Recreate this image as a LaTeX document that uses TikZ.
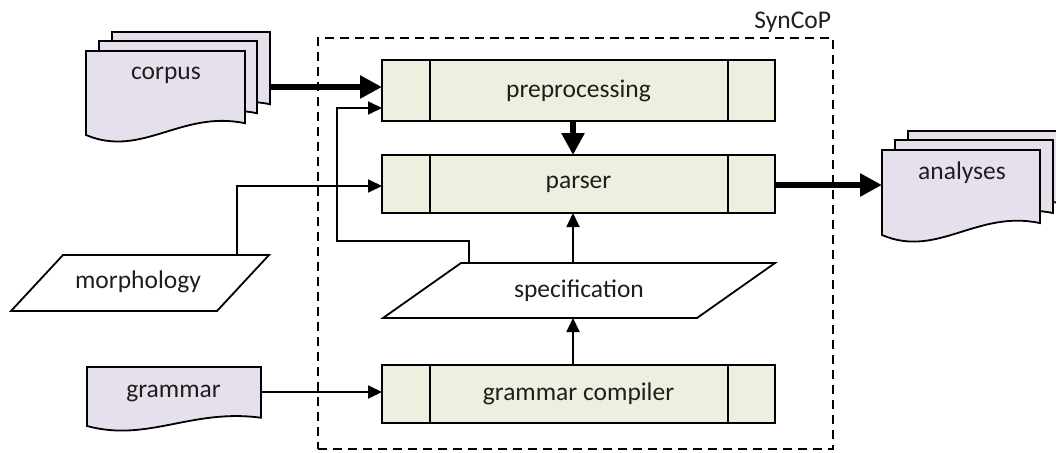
\documentclass[tikz,border=0pt]{standalone}
\usepackage{fontspec}
\setmainfont{Carlito}
\usetikzlibrary{arrows.meta,calc}
\definecolor{boxgreen}{RGB}{235,241,222}
\definecolor{doclav}{RGB}{230,224,236}
\definecolor{txt}{RGB}{30,30,30}
\newcommand\docshape[4]{%
  \path[docst] (#1,#2) -- (#1+#3,#2) -- (#1+#3,#2+0.86*#4)
    .. controls (#1+0.6*#3,#2+0.7*#4) and (#1+0.35*#3,#2+1.28*#4) .. (#1,#2+#4) -- cycle;}
\begin{document}
\begin{tikzpicture}[x=1pt,y=-1pt,
  every node/.style={font=\fontsize{25.5}{30}\selectfont, text=txt},
  proc/.style={draw, fill=boxgreen, line width=1.8pt, minimum width=393pt, inner sep=0pt, outer sep=0pt},
  docst/.style={draw, fill=doclav, line width=1.8pt},
  plain/.style={inner sep=0pt, outer sep=0pt},
  thinarr/.style={line width=1.8pt, -{Triangle[length=14pt,width=13pt]}},
  thickarr/.style={line width=6.5pt, -{Triangle[length=22pt,width=22pt]}},
  para/.style={draw, fill=white, line width=1.8pt}]
\useasboundingbox (0,0) rectangle (1056,452);
% SynCoP frame
\node[draw, line width=1.8pt, dash pattern=on 9pt off 6pt, minimum width=515pt, minimum height=411pt, plain] (syn) at (575.5,243.5) {};
\node[anchor=base east, plain] (synlabel) at (831,29) {SynCoP};
% process boxes
\node[proc, minimum height=61pt] (pre) at (578.5,90.5) {preprocessing};
\node[proc, minimum height=58pt] (parser) at (578.5,184) {parser};
\node[proc, minimum height=58pt] (gc) at (578.5,394) {grammar compiler};
\foreach \n in {pre,parser,gc}{
  \draw[line width=1.8pt] ([xshift=48pt]\n.north west) -- ([xshift=48pt]\n.south west);
  \draw[line width=1.8pt] ([xshift=-47pt]\n.north east) -- ([xshift=-47pt]\n.south east);
}
% specification
\node[plain, minimum width=392pt, minimum height=55pt] (spec) at (579,290.5) {};
\path[para] ([xshift=78pt]spec.north west) -- (spec.north east) -- ([xshift=-78pt]spec.south east) -- (spec.south west) -- cycle;
\node[plain] (spectext) at (spec.center) {specification};
% morphology
\node[plain, minimum width=258pt, minimum height=56pt] (morph) at (140,283) {};
\path[para] ([xshift=52pt]morph.north west) -- (morph.north east) -- ([xshift=-52pt]morph.south east) -- (morph.south west) -- cycle;
\node[plain] (morphtext) at (138,282) {morphology};
% corpus stack
\docshape{112}{32}{158}{84}
\docshape{99}{41}{158}{84}
\docshape{86}{51}{159}{84}
\node[plain] (corpus) at (166,75) {corpus};
% analyses stack
\docshape{908}{131}{158}{85}
\docshape{895}{140}{158}{85}
\docshape{882}{150}{158}{85}
\node[plain] (analyses) at (962,173) {analyses};
% grammar
\docshape{87}{367}{174}{59}
\node[plain] (grammar) at (173.5,393) {grammar};
% coordinates
\coordinate (axis) at (573,0);
\coordinate (corpusout) at (270,87);
\coordinate (anin) at (882,185);
\coordinate (gramout) at (261,392);
\coordinate (m1) at (237,186);
\coordinate (fb1) at (469,241);
\coordinate (fb2) at (337,108);
% connectors
\draw[thickarr] (corpusout) -- (pre.west |- corpusout);
\draw[thickarr] (pre.south -| axis) -- (parser.north -| axis);
\draw[thickarr] (parser.east |- anin) -- (anin);
\draw[thinarr] (gc.north -| axis) -- (spec.south -| axis);
\draw[thinarr] (spec.north -| axis) -- (parser.south -| axis);
\draw[thinarr] (gramout) -- (gc.west |- gramout);
\draw[thinarr] (morph.north -| m1) -- (m1) -- (parser.west |- m1);
\draw[thinarr] (spec.north -| fb1) -- (fb1) -| (fb2) -- (pre.west |- fb2);
\end{tikzpicture}
\end{document}
